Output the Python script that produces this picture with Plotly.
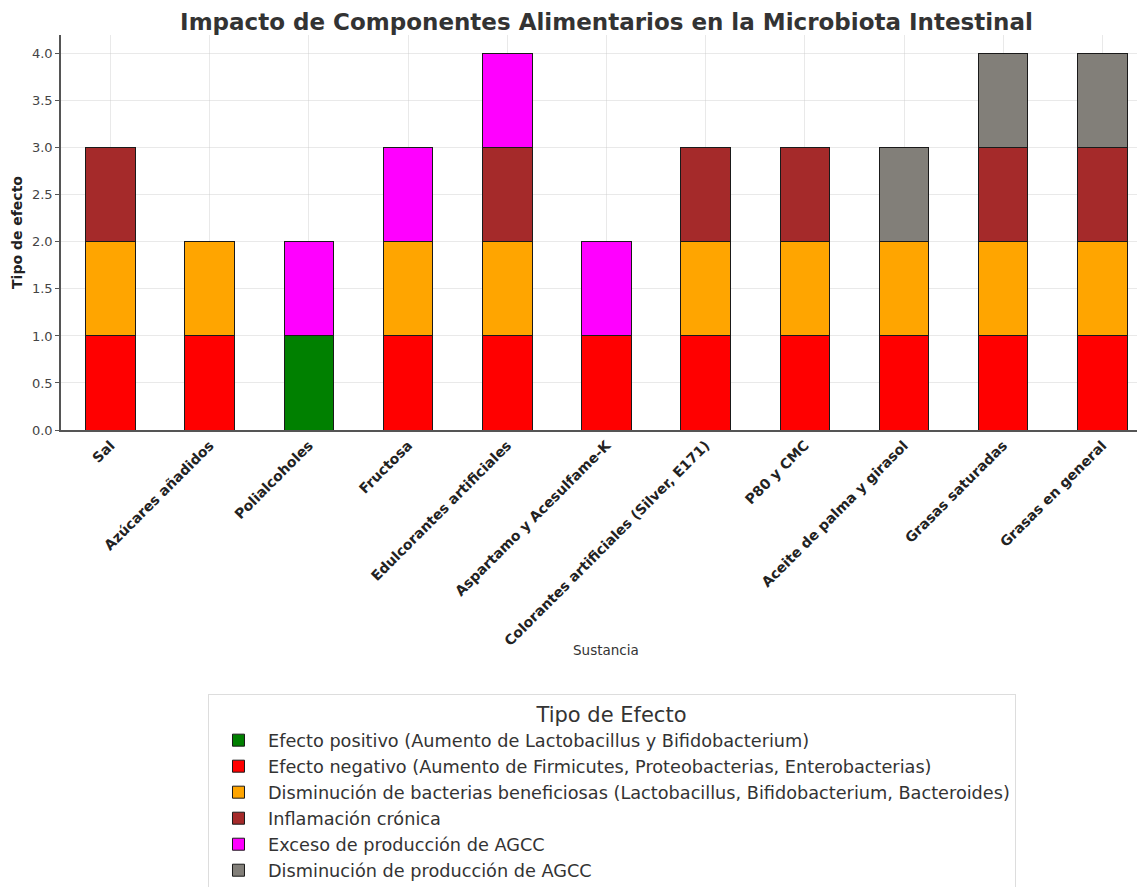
import plotly.graph_objects as go

categories = ["Sal", "Azúcares añadidos", "Polialcoholes", "Fructosa",
              "Edulcorantes artificiales", "Aspartamo y Acesulfame-K",
              "Colorantes artificiales (Silver, E171)", "P80 y CMC",
              "Aceite de palma y girasol", "Grasas saturadas", "Grasas en general"]

efecto_positivo = [0, 0, 1, 0, 0, 0, 0, 0, 0, 0, 0]
efecto_negativo = [1, 1, 0, 1, 1, 1, 1, 1, 1, 1, 1]
disminucion_bacterias = [1, 1, 0, 1, 1, 0, 1, 1, 1, 1, 1]
inflamacion_cronica = [1, 0, 0, 0, 1, 0, 1, 1, 0, 1, 1]
exceso_agcc = [0, 0, 1, 1, 1, 1, 0, 0, 0, 0, 0]
disminucion_agcc = [0, 0, 0, 0, 0, 0, 0, 0, 1, 1, 1]

series_names = [
    "Efecto positivo (Aumento de Lactobacillus y Bifidobacterium)",
    "Efecto negativo (Aumento de Firmicutes, Proteobacterias, Enterobacterias)",
    "Disminución de bacterias beneficiosas (Lactobacillus, Bifidobacterium, Bacteroides)",
    "Inflamación crónica",
    "Exceso de producción de AGCC",
    "Disminución de producción de AGCC",
]
series_values = [efecto_positivo, efecto_negativo, disminucion_bacterias,
                 inflamacion_cronica, exceso_agcc, disminucion_agcc]
colors = ["#008000", "#ff0000", "#ffa500", "#a52a2a", "#ff00ff", "#827f79"]

fig = go.Figure()
for name, vals, col in zip(series_names, series_values, colors):
    fig.add_trace(go.Bar(
        x=categories,
        y=[v if v else None for v in vals],
        name=name,
        width=0.5,
        marker=dict(color=col, line=dict(color="#1a1a1a", width=1)),
    ))

fig.add_annotation(
    text="Sustancia", xref="paper", yref="paper",
    x=0.503, y=-0.557, xanchor="center", yanchor="middle",
    showarrow=False, font=dict(size=13.5, color="#333333"),
)

fig.update_layout(
    barmode="stack",
    width=1145, height=887,
    margin=dict(l=53, r=8, t=27, b=465, autoexpand=False),
    plot_bgcolor="white", paper_bgcolor="white",
    font=dict(family="DejaVu Sans", color="#333333"),
    title=dict(text="<b>Impacto de Componentes Alimentarios en la Microbiota Intestinal</b>",
               x=0.5227, xanchor="center", y=0.9845, yanchor="middle",
               font=dict(size=23, color="#333333")),
    xaxis=dict(
        range=[-0.5, 10.43],
        automargin=False,
        tickangle=-45,
        tickfont=dict(size=14, color="#222222", family="DejaVu Sans"),
        tickvals=categories,
        ticktext=["<b>%s</b>" % c for c in categories],
        showgrid=True, gridcolor="rgba(200,200,200,0.4)", gridwidth=1,
        showline=True, linecolor="#555555", linewidth=1.5,
        ticks="", layer="above traces",
    ),
    yaxis=dict(
        range=[0, 4.2],
        automargin=False,
        tickvals=[0, 0.5, 1, 1.5, 2, 2.5, 3, 3.5, 4],
        ticktext=["0.0", "0.5", "1.0", "1.5", "2.0", "2.5", "3.0", "3.5", "4.0"],
        tickfont=dict(size=13, color="#444444"),
        showgrid=True, gridcolor="rgba(200,200,200,0.4)", gridwidth=1,
        showline=True, linecolor="#555555", linewidth=1.5,
        ticks="outside", ticklen=4, tickcolor="#555555",
        zeroline=False, layer="above traces",
        title=dict(text="<b>Tipo de efecto</b>", font=dict(size=14, color="#222222"), standoff=6),
    ),
    legend=dict(
        title=dict(text="Tipo de Efecto", side="top center", font=dict(size=21, color="#333333")),
        orientation="v",
        x=0.1356, xanchor="left",
        y=-0.668, yanchor="top",
        bgcolor="white", bordercolor="#dddddd", borderwidth=1,
        font=dict(size=17.7, color="#333333"),
        itemwidth=49,
        traceorder="normal",
    ),
    showlegend=True,
)

fig.write_html("out.html")
